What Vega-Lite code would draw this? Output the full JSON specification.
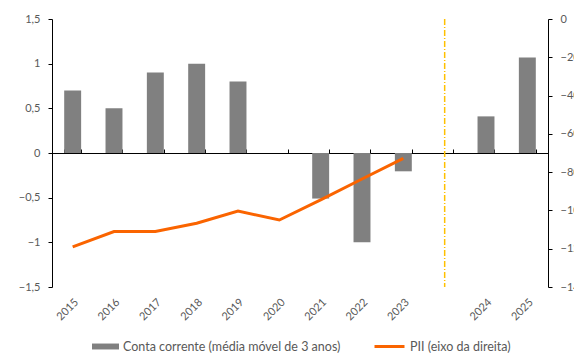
{
  "$schema": "https://vega.github.io/schema/vega-lite/v6.json",
  "width": 496,
  "height": 268,
  "autosize": {"type": "none"},
  "padding": {"left": 52, "top": 19, "right": 26, "bottom": 66},
  "background": "white",
  "config": {
    "view": {"stroke": null},
    "font": "Lato",
    "axis": {"labelFont": "Lato", "labelFontSize": 11, "labelColor": "#595959", "grid": false, "title": null, "domainColor": "#000000", "tickColor": "#000000", "tickSize": 4},
    "legend": {"labelFont": "Lato", "labelFontSize": 12.5, "labelColor": "#595959", "padding": 0, "labelLimit": 400}
  },
  "datasets": {
    "cc": [
      {"ano": "2015", "cc": 0.70},
      {"ano": "2016", "cc": 0.50},
      {"ano": "2017", "cc": 0.90},
      {"ano": "2018", "cc": 1.00},
      {"ano": "2019", "cc": 0.80},
      {"ano": "2020", "cc": 0.0},
      {"ano": "2021", "cc": -0.51},
      {"ano": "2022", "cc": -1.00},
      {"ano": "2023", "cc": -0.205},
      {"ano": "2024", "cc": 0.41},
      {"ano": "2025", "cc": 1.07}
    ],
    "pii": [
      {"ano": "2015", "pii": -119},
      {"ano": "2016", "pii": -111},
      {"ano": "2017", "pii": -111},
      {"ano": "2018", "pii": -106.7},
      {"ano": "2019", "pii": -100.3},
      {"ano": "2020", "pii": -105},
      {"ano": "2021", "pii": -94.5},
      {"ano": "2022", "pii": -83.6},
      {"ano": "2023", "pii": -72.8}
    ],
    "sep": [{"ano": "gap"}]
  },
  "layer": [
    {
      "data": {"name": "cc"},
      "mark": {"type": "bar", "color": "#808080"},
      "encoding": {
        "x": {
          "field": "ano", "type": "ordinal",
          "scale": {"domain": ["2015","2016","2017","2018","2019","2020","2021","2022","2023","gap","2024","2025"], "paddingInner": 0.59, "paddingOuter": 0.295},
          "axis": {"orient": "bottom", "domain": false, "ticks": false, "labelAngle": -45, "labelPadding": 9, "labelExpr": "datum.value == 'gap' ? '' : datum.value"}
        },
        "y": {
          "field": "cc", "type": "quantitative",
          "scale": {"domain": [-1.5, 1.5], "nice": false, "zero": false},
          "axis": {"orient": "left", "values": [-1.5, -1, -0.5, 0, 0.5, 1, 1.5], "labelPadding": 8, "labelExpr": "replace(format(datum.value, '.1~f'), '.', ',')"}
        },
        "color": {
          "datum": "Conta corrente (média móvel de 3 anos)",
          "scale": {"range": ["#808080"]},
          "legend": {"orient": "none", "legendX": 40, "legendY": 314, "title": null, "symbolType": "M-1,-0.22H1V0.22H-1Z", "symbolSize": 729, "labelOffset": 4, "symbolStrokeWidth": 0}
        }
      }
    },
    {
      "data": {"name": "sep"},
      "mark": {"type": "rule", "color": "#FFC000", "strokeWidth": 1.5, "strokeDash": [6, 2, 1, 2]},
      "encoding": {
        "x": {
          "field": "ano", "type": "ordinal", "bandPosition": 0.5,
          "axis": {"orient": "top", "offset": -134, "labels": false, "domain": true, "ticks": true, "tickBand": "extent", "tickSize": 4}
        }
      }
    },
    {
      "data": {"name": "pii"},
      "mark": {"type": "line", "strokeWidth": 3},
      "encoding": {
        "x": {"field": "ano", "type": "ordinal", "axis": null},
        "y": {
          "field": "pii", "type": "quantitative",
          "scale": {"domain": [-140, 0], "nice": false, "zero": false},
          "axis": {"orient": "right", "values": [0, -20, -40, -60, -80, -100, -120, -140], "labelPadding": 8}
        },
        "color": {
          "datum": "PII (eixo da direita)",
          "scale": {"range": ["#FA6400"]},
          "legend": {"orient": "none", "legendX": 321, "legendY": 311, "title": null, "symbolType": "stroke", "symbolSize": 900, "symbolStrokeWidth": 3, "labelOffset": 4}
        }
      }
    }
  ],
  "resolve": {"scale": {"y": "independent", "color": "independent"}, "axis": {"x": "independent", "y": "independent"}}
}
